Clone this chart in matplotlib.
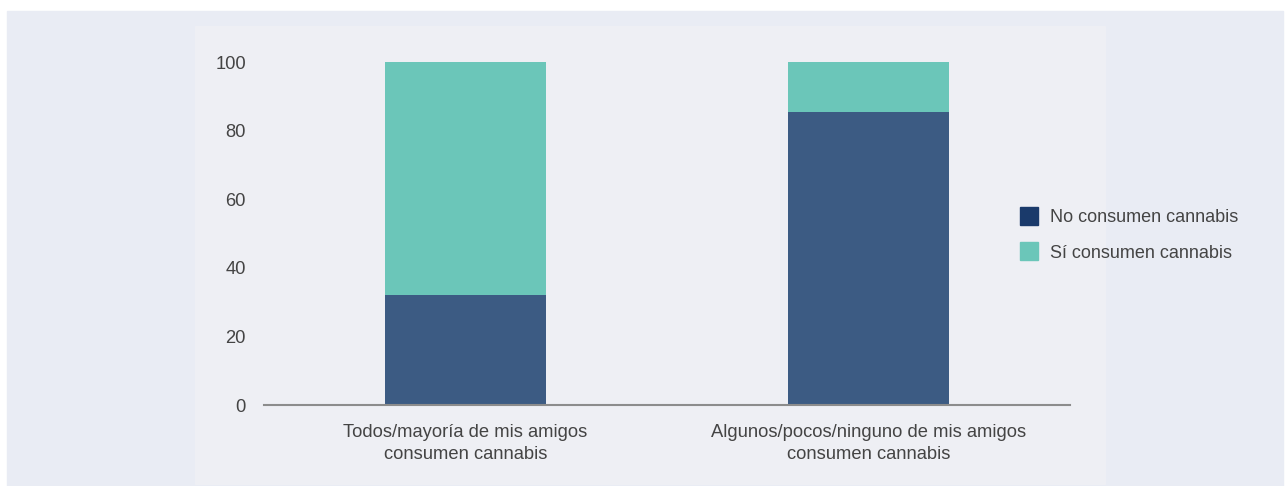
import matplotlib
matplotlib.use("Agg")
import matplotlib.pyplot as plt
from matplotlib.patches import Rectangle

# datos
categorias = ["Todos/mayoría de mis amigos\nconsumen cannabis",
              "Algunos/pocos/ninguno de mis amigos\nconsumen cannabis"]
no_consumen = [32, 85.5]
si_consumen = [68, 14.5]
series = ["No consumen cannabis", "Sí consumen cannabis"]

color_no = "#3c5b83"
color_si = "#6bc6b9"
color_texto = "#444444"

plt.rcParams['font.family'] = ['Liberation Sans', 'DejaVu Sans']

fig = plt.figure(figsize=(12.85, 4.86), dpi=100)
W, H = 1285, 486

# fondos
fig.patches.append(Rectangle((7 / W, 0), (1283 - 7) / W, 1 - 11 / H,
                             transform=fig.transFigure, color="#e9ecf4", zorder=-2))
fig.patches.append(Rectangle((195 / W, 2 / H), (1105 - 195) / W, 1 - 26 / H - 2 / H,
                             transform=fig.transFigure, color="#eeeff4", zorder=-1))

ax = fig.add_axes([264 / W, 1 - 405 / H, (1070 - 264) / W, (405 - 62) / H])
ax.set_facecolor("none")

x = list(range(len(categorias)))
ax.bar(x, no_consumen, width=0.4, color=color_no, zorder=2)
ax.bar(x, si_consumen, width=0.4, bottom=no_consumen, color=color_si, zorder=2)

ax.set_xlim(-0.5, 1.5)
ax.set_ylim(0, 100)
ax.set_yticks([0, 20, 40, 60, 80, 100])
ax.set_xticks(x)
ax.set_xticklabels(categorias, fontsize=13.2, color=color_texto, linespacing=1.35)
ax.tick_params(axis="y", length=0, pad=13, labelsize=13.2, labelcolor=color_texto)
ax.tick_params(axis="x", length=0, pad=14)
for lado in ["top", "right", "left"]:
    ax.spines[lado].set_visible(False)
ax.spines["bottom"].set_color("#8c8c8c")
ax.spines["bottom"].set_linewidth(1.5)
ax.spines["bottom"].set_zorder(3)

# leyenda manual
for i, (nombre, col) in enumerate(zip(series, ["#1a3a6b", color_si])):
    y = 1 - (216 + 35 * i) / H
    fig.patches.append(Rectangle((1020 / W, y - 9 / H), 18 / W, 18 / H,
                                 transform=fig.transFigure, color=col))
    fig.text(1050 / W, y - 2 / H, nombre, fontsize=13, color=color_texto, va="center")

fig.savefig("out.png", dpi=100)
